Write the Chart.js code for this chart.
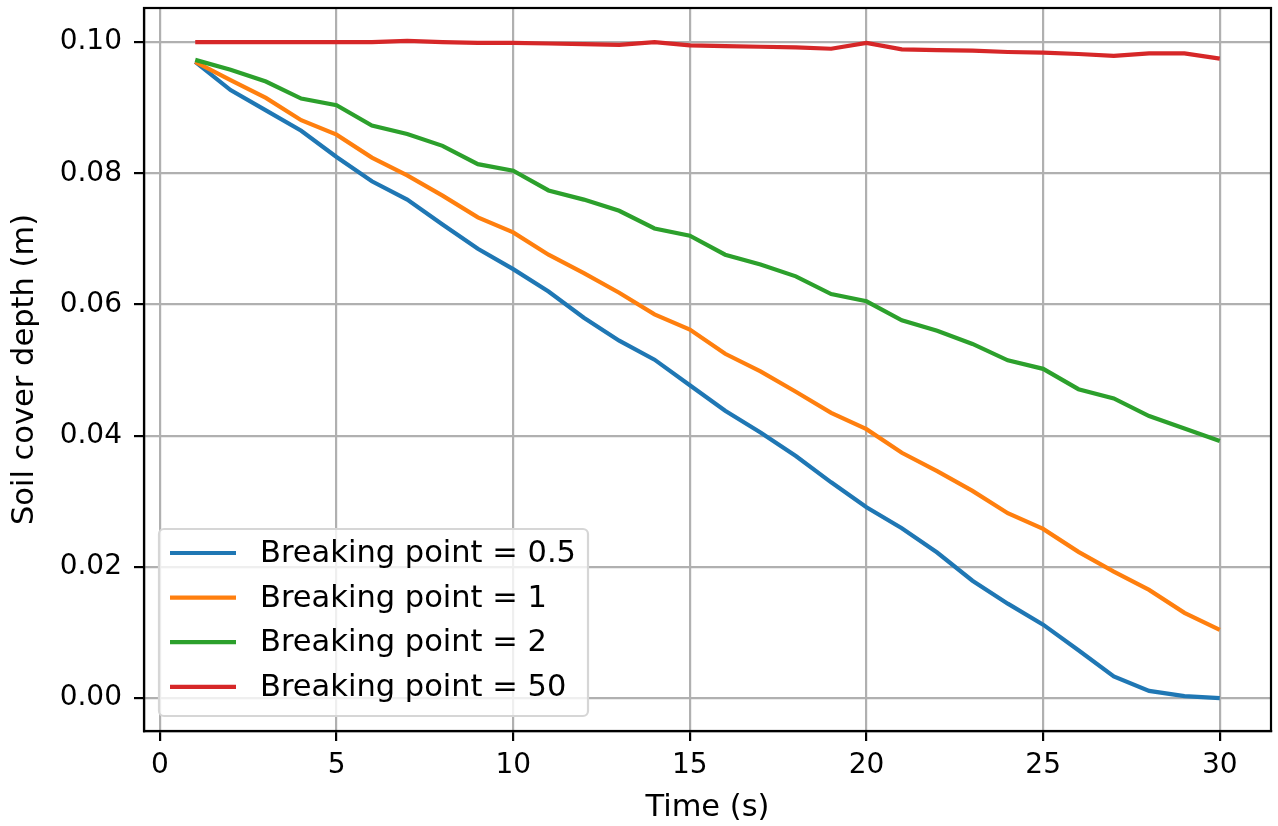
<!DOCTYPE html>
<html>
<head>
<meta charset="utf-8">
<title>Soil cover depth</title>
<script src="https://cdn.jsdelivr.net/npm/chart.js@4"></script>
<style>
  html, body { margin: 0; padding: 0; background: #fff; }
  #wrap { width: 1278px; height: 826px; }
</style>
</head>
<body>
<div id="wrap"><canvas id="depthChart" width="1278" height="826"></canvas></div>
<script>
// Time steps (s)
const timeSteps = [1, 2, 3, 4, 5, 6, 7, 8, 9, 10, 11, 12, 13, 14, 15,
                   16, 17, 18, 19, 20, 21, 22, 23, 24, 25, 26, 27, 28, 29, 30];

// Soil cover depth (m) for each breaking point
const depthBp05 = [0.0970, 0.0927, 0.0896, 0.0865, 0.0825, 0.0788, 0.0760, 0.0722, 0.0685, 0.0654,
                   0.0620, 0.0580, 0.0545, 0.0516, 0.0477, 0.0438, 0.0405, 0.0369, 0.0329, 0.0291,
                   0.0259, 0.0222, 0.0179, 0.0144, 0.0112, 0.0073, 0.0033, 0.0011, 0.0003, 0.0000];
const depthBp1  = [0.0970, 0.0942, 0.0915, 0.0881, 0.0859, 0.0824, 0.0797, 0.0766, 0.0733, 0.0710,
                   0.0676, 0.0648, 0.0618, 0.0585, 0.0562, 0.0525, 0.0498, 0.0467, 0.0435, 0.0410,
                   0.0374, 0.0346, 0.0316, 0.0282, 0.0258, 0.0223, 0.0193, 0.0165, 0.0130, 0.0104];
const depthBp2  = [0.0973, 0.0958, 0.0940, 0.0914, 0.0904, 0.0873, 0.0860, 0.0842, 0.0814, 0.0804,
                   0.0774, 0.0760, 0.0743, 0.0716, 0.0705, 0.0676, 0.0661, 0.0643, 0.0616, 0.0605,
                   0.0576, 0.0560, 0.0540, 0.0515, 0.0502, 0.0471, 0.0457, 0.0430, 0.0411, 0.0392];
const depthBp50 = [0.1000, 0.1000, 0.1000, 0.1000, 0.1000, 0.1000, 0.1002, 0.1000, 0.0999, 0.0999,
                   0.0998, 0.0997, 0.0996, 0.1000, 0.0995, 0.0994, 0.0993, 0.0992, 0.0990, 0.0999,
                   0.0989, 0.0988, 0.0987, 0.0985, 0.0984, 0.0982, 0.0979, 0.0983, 0.0983, 0.0975];

const seriesLabels = ['Breaking point = 0.5', 'Breaking point = 1', 'Breaking point = 2', 'Breaking point = 50'];

// Axis ticks
const xTicks = [0, 5, 10, 15, 20, 25, 30];
const yTicks = [0.00, 0.02, 0.04, 0.06, 0.08, 0.10];

const FONT = 'DejaVu Sans';
const colors = ['#1f77b4', '#ff7f0e', '#2ca02c', '#d62728'];

function toPoints(values) {
    return values.map((v, i) => ({ x: timeSteps[i], y: v }));
}

// Black frame around the plot area (all four sides)
const framePlugin = {
    id: 'frame',
    afterDatasetsDraw(chart) {
        const { ctx, chartArea: a } = chart;
        ctx.save();
        ctx.strokeStyle = '#000';
        ctx.lineWidth = 2.2;
        ctx.strokeRect(a.left, a.top, a.right - a.left, a.bottom - a.top);
        ctx.restore();
    }
};

// Legend box in the lower left corner of the plot area
const insideLegend = {
    id: 'insideLegend',
    afterDraw(chart) {
        const { ctx, chartArea: a } = chart;
        const boxX = a.left + 15, boxW = 429;
        const boxY = 529, boxH = 187;
        const rowH = 44.6;
        ctx.save();
        ctx.beginPath();
        ctx.roundRect(boxX, boxY, boxW, boxH, 5);
        ctx.fillStyle = 'rgba(255,255,255,0.8)';
        ctx.fill();
        ctx.strokeStyle = '#d6d6d6';
        ctx.lineWidth = 2.2;
        ctx.stroke();

        ctx.font = '30.5px "' + FONT + '"';
        ctx.textBaseline = 'middle';
        ctx.textAlign = 'left';
        chart.data.datasets.forEach((ds, i) => {
            const y = boxY + 24 + i * rowH;
            ctx.strokeStyle = ds.borderColor;
            ctx.lineWidth = 4.2;
            ctx.beginPath();
            ctx.moveTo(boxX + 11, y);
            ctx.lineTo(boxX + 77, y);
            ctx.stroke();
            ctx.fillStyle = '#000';
            ctx.fillText(ds.label, boxX + 101, y + 1);
        });
        ctx.restore();
    }
};

const ctx = document.getElementById('depthChart').getContext('2d');
const depthChart = new Chart(ctx, {
    type: 'line',
    data: {
        datasets: [depthBp05, depthBp1, depthBp2, depthBp50].map((vals, i) => ({
            label: seriesLabels[i],
            data: toPoints(vals),
            borderColor: colors[i],
            backgroundColor: colors[i],
            borderWidth: 4.2,
            pointRadius: 0,
            fill: false,
            tension: 0,
            order: 4 - i   // later series drawn on top
        }))
    },
    options: {
        responsive: false,
        animation: false,
        devicePixelRatio: 1,
        layout: { padding: { left: 0, right: 7, top: 8, bottom: 0 } },
        plugins: {
            legend: { display: false },
            tooltip: { enabled: false }
        },
        scales: {
            x: {
                type: 'linear',
                min: -0.45,
                max: 31.45,
                afterBuildTicks(scale) { scale.ticks = xTicks.map(v => ({ value: v })); },
                afterFit(scale) {
                    scale.height = 95;
                    scale.paddingLeft = 0;
                    scale.paddingRight = 0;
                },
                ticks: {
                    color: '#000',
                    font: { family: FONT, size: 28 },
                    padding: 8,
                    maxRotation: 0,
                    callback: v => String(v)
                },
                grid: {
                    color: '#b0b0b0',
                    lineWidth: 2.2,
                    drawTicks: true,
                    tickLength: 10,
                    tickColor: '#000',
                    tickWidth: 2.2
                },
                border: { display: true, color: '#000', width: 2.2 },
                title: {
                    display: true,
                    text: 'Time (s)',
                    color: '#000',
                    font: { family: FONT, size: 30.5 },
                    padding: { top: 2, bottom: 0 }
                }
            },
            y: {
                min: -0.00501,
                max: 0.10521,
                afterBuildTicks(scale) { scale.ticks = yTicks.map(v => ({ value: v })); },
                afterFit(scale) {
                    scale.width = 144;
                    scale.paddingTop = 0;
                    scale.paddingBottom = 0;
                },
                ticks: {
                    color: '#000',
                    font: { family: FONT, size: 28 },
                    padding: 12,
                    callback: v => v.toFixed(2)
                },
                grid: {
                    color: '#b0b0b0',
                    lineWidth: 2.2,
                    drawTicks: true,
                    tickLength: 10,
                    tickColor: '#000',
                    tickWidth: 2.2
                },
                border: { display: true, color: '#000', width: 2.2 },
                title: {
                    display: true,
                    text: 'Soil cover depth (m)',
                    color: '#000',
                    font: { family: FONT, size: 30.5 },
                    padding: { top: 7, bottom: 0 }
                }
            }
        }
    },
    plugins: [framePlugin, insideLegend]
});
</script>
</body>
</html>
